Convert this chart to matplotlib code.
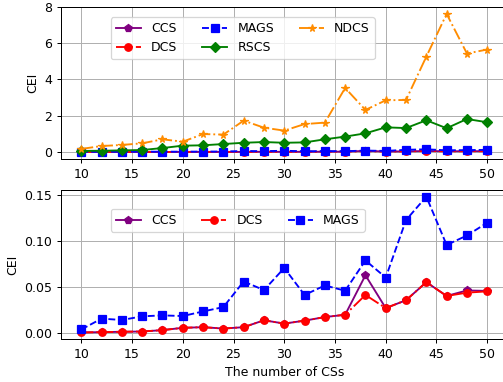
import numpy as np
import matplotlib
matplotlib.use("Agg")
import matplotlib.pyplot as plt

n_cs = np.arange(10, 52, 2)

ndcs = [0.17, 0.33, 0.39, 0.48, 0.70, 0.57, 0.99, 0.96, 1.73, 1.34, 1.18,
        1.54, 1.62, 3.53, 2.32, 2.85, 2.87, 5.26, 7.61, 5.43, 5.65]
rscs = [0.06, 0.07, 0.09, 0.11, 0.22, 0.35, 0.37, 0.44, 0.51, 0.55, 0.51,
        0.53, 0.70, 0.85, 1.03, 1.36, 1.32, 1.75, 1.31, 1.82, 1.64]
mags = [0.0036, 0.0154, 0.0139, 0.0179, 0.0189, 0.0182, 0.0232, 0.0279, 0.0557, 0.0464, 0.0704,
        0.0411, 0.0514, 0.0457, 0.0786, 0.0600, 0.1225, 0.1479, 0.0954, 0.1057, 0.1196]
dcs = [0.0004, 0.0007, 0.0011, 0.0014, 0.0029, 0.0054, 0.0061, 0.0046, 0.0061, 0.0136, 0.0100,
       0.0132, 0.0171, 0.0196, 0.0411, 0.0268, 0.0354, 0.0550, 0.0400, 0.0436, 0.0450]
ccs = [0.0004, 0.0007, 0.0011, 0.0014, 0.0029, 0.0054, 0.0061, 0.0046, 0.0061, 0.0136, 0.0100,
       0.0132, 0.0171, 0.0196, 0.0625, 0.0268, 0.0354, 0.0550, 0.0400, 0.0460, 0.0455]

# original looks like a slightly shrunk figure, so draw at dpi 90
fig = plt.figure(figsize=(5.6, 382 / 90), dpi=90)
# axes run a little past the right edge, like the cropped original
ax1 = fig.add_axes([0.121, 0.584, 0.886, 0.398])
ax2 = fig.add_axes([0.121, 0.112, 0.886, 0.391])

ax1.plot(n_cs, ccs, '-', marker='p', color='purple', label='CCS')
ax1.plot(n_cs, dcs, '-.', marker='o', color='red', label='DCS')
ax1.plot(n_cs, mags, '--', marker='s', color='blue', label='MAGS')
ax1.plot(n_cs, rscs, '-', marker='D', color='green', label='RSCS')
ax1.plot(n_cs, ndcs, '-.', marker='*', color='darkorange', label='NDCS')
ax1.set_ylim(-0.38, 8.0)
ax1.set_ylabel('CEI')
ax1.grid(True)
ax1.legend(ncol=3, loc='upper left', bbox_to_anchor=(0.112, 0.932), borderaxespad=0)

ax2.plot(n_cs, ccs, '-', marker='p', color='purple', label='CCS')
ax2.plot(n_cs, dcs, '-.', marker='o', color='red', label='DCS')
ax2.plot(n_cs, mags, '--', marker='s', color='blue', label='MAGS')
ax2.set_ylabel('CEI')
ax2.set_xlabel('The number of CSs')
ax2.grid(True)
ax2.legend(ncol=3, loc='upper left', bbox_to_anchor=(0.112, 0.872), borderaxespad=0)

fig.savefig('out.png', dpi=90)
